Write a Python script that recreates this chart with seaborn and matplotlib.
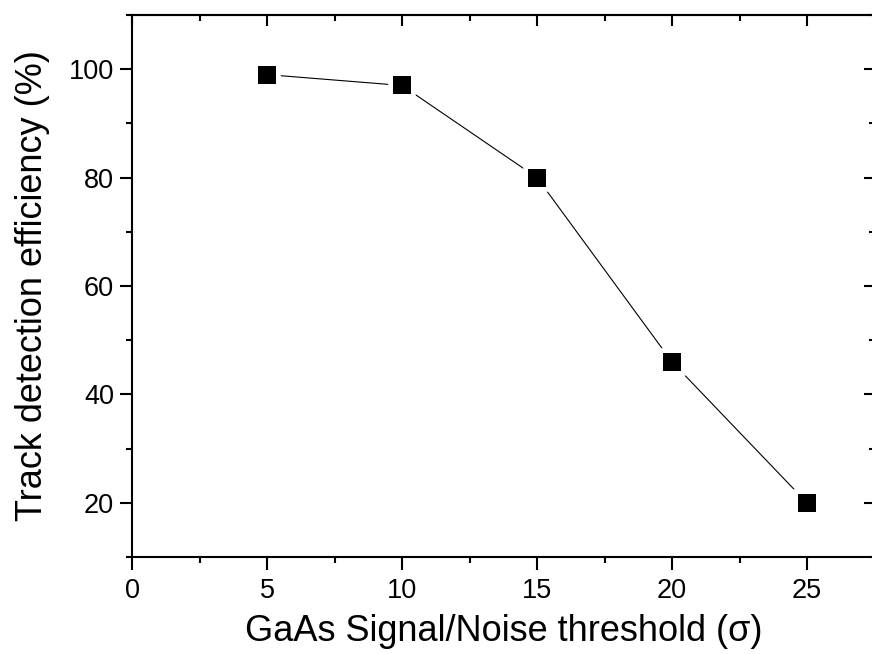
import numpy as np
import pandas as pd
import matplotlib
matplotlib.use("Agg")
import matplotlib.pyplot as plt
from matplotlib.ticker import MultipleLocator
import seaborn as sns

# threshold (sigma) vs track detection efficiency (%)
threshold  = [5, 10, 15, 20, 25]
efficiency = [99, 97, 80, 46, 20]

sns.set_style("ticks")
plt.rcParams["font.family"] = ["Liberation Sans", "DejaVu Sans"]
plt.rcParams.update({
    "axes.edgecolor": "black",
    "axes.labelcolor": "black",
    "text.color": "black",
    "xtick.color": "black",
    "ytick.color": "black",
})

df = pd.DataFrame({"threshold": threshold, "efficiency": efficiency})

fig = plt.figure(figsize=(8.72, 6.54), dpi=100)
ax = fig.add_axes([132 / 872, 1 - 557 / 654, (874.5 - 132) / 872, (557 - 15) / 654])

# line with white-edged markers so the line stops short of the squares
sns.lineplot(data=df, x="threshold", y="efficiency", ax=ax,
             color="black", linewidth=0.8, marker="s", markersize=16,
             markerfacecolor="black", markeredgecolor="white",
             markeredgewidth=4)
ax.scatter(df["threshold"], df["efficiency"], marker="s", s=13.2**2,
           color="black", zorder=5, linewidths=0)

ax.set_xlim(0, 27.5)
ax.set_ylim(10, 110)
ax.xaxis.set_major_locator(MultipleLocator(5))
ax.xaxis.set_minor_locator(MultipleLocator(2.5))
ax.yaxis.set_major_locator(MultipleLocator(20))
ax.yaxis.set_minor_locator(MultipleLocator(10))

for s in ax.spines.values():
    s.set_linewidth(1.5)
    s.set_visible(True)

ax.tick_params(which="both", direction="out", width=1.5, labelsize=19.5,
               top=False, right=False)
ax.tick_params(which="major", length=9)
ax.tick_params(which="minor", length=4.5)
ax.tick_params(axis="x", pad=6)
ax.tick_params(axis="y", pad=4)

# inward ticks on top and right, no labels
ax2 = ax.secondary_xaxis("top")
ax2.xaxis.set_major_locator(MultipleLocator(5))
ax2.xaxis.set_minor_locator(MultipleLocator(2.5))
ax2.tick_params(which="both", direction="in", width=1.5, labeltop=False)
ax2.tick_params(which="major", length=8)
ax2.tick_params(which="minor", length=4.5)
ax2.spines["top"].set_linewidth(1.5)
ax3 = ax.secondary_yaxis("right")
ax3.yaxis.set_major_locator(MultipleLocator(20))
ax3.yaxis.set_minor_locator(MultipleLocator(10))
ax3.tick_params(which="both", direction="in", width=1.5, labelright=False)
ax3.tick_params(which="major", length=8)
ax3.tick_params(which="minor", length=4.5)
ax3.spines["right"].set_linewidth(1.5)

ax.set_xlabel("GaAs Signal/Noise threshold (σ)", fontsize=26, labelpad=7)
ax.set_ylabel("Track detection efficiency (%)", fontsize=26, labelpad=13.5)

fig.savefig("out.png", dpi=100)
